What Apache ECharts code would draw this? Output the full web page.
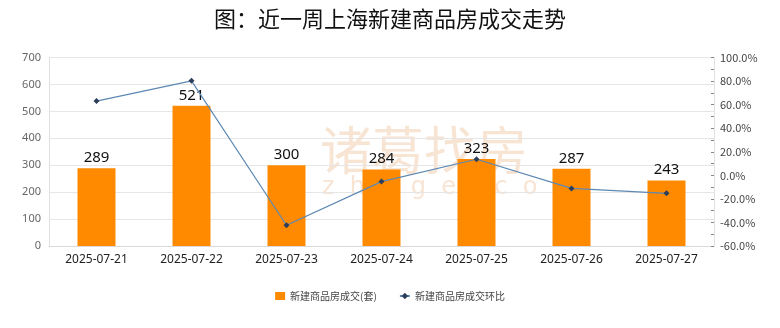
<!DOCTYPE html>
<html><head><meta charset="utf-8">
<script src="https://cdn.jsdelivr.net/npm/echarts@6/dist/echarts.min.js"></script>
<style>html,body{margin:0;padding:0;background:#fff}#c{width:780px;height:328px}</style>
</head><body><div id="c"></div>
<script>
const categories = ['2025-07-21','2025-07-22','2025-07-23','2025-07-24','2025-07-25','2025-07-26','2025-07-27'];
const dealCounts = [289, 521, 300, 284, 323, 287, 243];
const weekOnWeek = [63.1, 80.3, -42.4, -5.3, 13.7, -11.1, -15.3];
const titleText = '图：近一周上海新建商品房成交走势';
const seriesNames = ['新建商品房成交(套)', '新建商品房成交环比'];

const chart = echarts.init(document.getElementById('c'), null, {renderer:'canvas'});
chart.setOption({
  animation: false,
  backgroundColor: '#fff',
  title: {
    text: titleText, left: 'center', top: 3,
    textStyle: {fontSize: 22, fontWeight: 'normal', color: '#111', fontFamily: 'Noto Sans CJK SC'}
  },
  legend: {
    bottom: 22, left: 'center', itemGap: 22, itemWidth: 10, itemHeight: 8,
    textStyle: {fontSize: 10, color: '#444', fontFamily: 'Noto Sans CJK SC'},
    data: [
      {name: seriesNames[0], icon: 'rect'},
      {name: seriesNames[1]}
    ]
  },
  graphic: [
    {type: 'text', left: 320, top: 124, silent: true, z: 0,
     style: {text: '诸葛找房', font: '52px "Noto Sans CJK SC"', fill: 'rgba(242,205,175,0.55)'}},
    {type: 'text', left: 322, top: 176, silent: true, z: 0,
     style: {text: 'z  h  u  g  e  .  c  o  m', font: '24px "DejaVu Sans"', fill: 'rgba(242,205,175,0.55)'}}
  ],
  grid: {left: 49, right: 66, top: 57.6, bottom: 82},
  xAxis: {
    type: 'category', data: categories,
    axisLine: {lineStyle: {color: '#d9d9d9'}},
    axisTick: {show: false},
    axisLabel: {interval: 0, fontSize: 12, color: '#222', margin: 8, fontFamily: 'Noto Sans'}
  },
  yAxis: [
    {type: 'value', min: 0, max: 700, interval: 100,
     axisLine: {show: true, lineStyle: {color: '#e0e0e0'}},
     axisTick: {show: false},
     axisLabel: {fontSize: 11, color: '#666', margin: 8, fontFamily: 'Noto Sans'},
     splitLine: {lineStyle: {color: '#e6e6e6'}}},
    {type: 'value', min: -60, max: 100, interval: 20,
     axisLine: {show: true, lineStyle: {color: '#e0e0e0'}},
     axisTick: {show: true, inside: true, length: 3, lineStyle: {color: '#888'}},
     minorTick: {show: true, splitNumber: 2, length: 3, lineStyle: {color: '#888'}},
     axisLabel: {fontSize: 11, color: '#444', margin: 6, fontFamily: 'Noto Sans CJK JP',
       formatter: v => v.toFixed(1) + '%'},
     splitLine: {show: false}}
  ],
  series: [
    {name: seriesNames[0], type: 'bar', data: dealCounts, barWidth: '40%', yAxisIndex: 0, z: 2,
     itemStyle: {color: '#ff8a00'},
     label: {show: true, position: 'top', fontSize: 15, color: '#111', distance: 3, fontFamily: 'Noto Sans'}},
    {name: seriesNames[1], type: 'line', data: weekOnWeek, yAxisIndex: 1, z: 3,
     symbol: 'diamond', symbolSize: 6,
     lineStyle: {color: '#5d88b3', width: 1.2},
     itemStyle: {color: '#2c3e5a'}}
  ]
});
</script></body></html>
